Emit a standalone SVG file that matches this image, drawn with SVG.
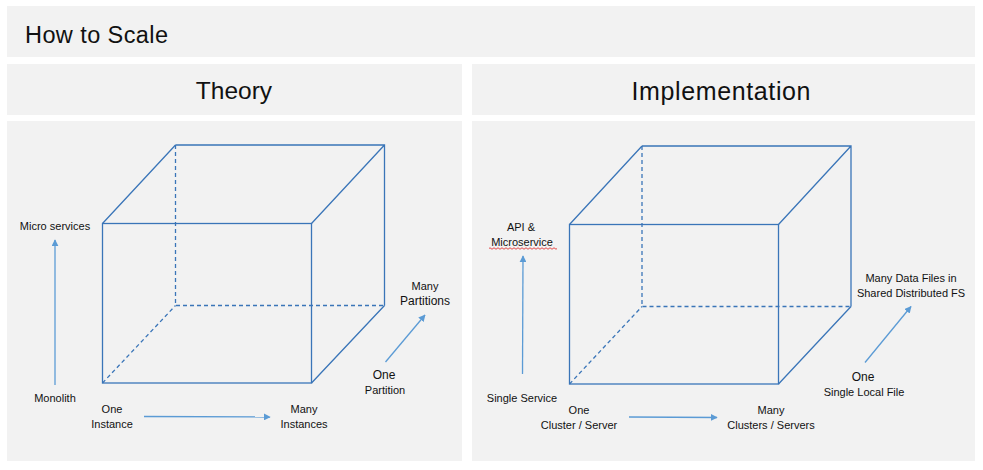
<svg xmlns="http://www.w3.org/2000/svg" width="983" height="470" viewBox="0 0 983 470">
<style>
.panel{fill:#f2f2f2}
.t{font-family:"Liberation Sans",Arial,sans-serif;fill:#111}
.s{font-size:11px;text-anchor:middle}
.m{font-size:12px;text-anchor:middle}
.cube{stroke:#3a75b8;stroke-width:1.3;fill:none}
.dash{stroke-dasharray:4 3}
.arr{stroke:#5b9bd5;stroke-width:1.3;fill:none;marker-end:url(#ah)}
</style>
<defs>
<marker id="ah" viewBox="0 0 10 10" refX="9" refY="5" markerWidth="7" markerHeight="7" markerUnits="userSpaceOnUse" orient="auto">
<path d="M0,0 L10,5 L0,10 z" fill="#5b9bd5"/>
</marker>
</defs>
<rect width="983" height="470" fill="#ffffff"/>
<g id="title">
<rect class="panel" x="7" y="6" width="968" height="51"/>
<text class="t" x="25" y="43" font-size="23.5" textLength="143" lengthAdjust="spacing">How to Scale</text>
</g>
<g id="theory-header">
<rect class="panel" x="7" y="64" width="455" height="51"/>
<text class="t" x="234" y="99" font-size="24.5" text-anchor="middle">Theory</text>
</g>
<g id="implementation-header">
<rect class="panel" x="472" y="64" width="503" height="51"/>
<text class="t" x="631.5" y="100" font-size="25" textLength="179" lengthAdjust="spacing">Implementation</text>
</g>
<g id="theory-body">
<rect class="panel" x="7" y="121" width="455" height="340"/>
<g id="theory-cube">
<rect class="cube" x="102.5" y="223.5" width="209" height="159.5"/>
<path class="cube" d="M175.5,145 H384.5 V305.5 M102.5,223.5 L175.5,145 M311.5,223.5 L384.5,145 M311.5,383 L384.5,305.5"/>
<path class="cube dash" d="M175.5,145 V305.5 H384.5 M102.5,383 L175.5,305.5"/>
</g>
<text class="t s" x="55" y="230">Micro services</text>
<text class="t s" x="55" y="402">Monolith</text>
<text class="t s" x="112" y="413">One</text>
<text class="t s" x="112" y="428">Instance</text>
<text class="t s" x="304" y="413">Many</text>
<text class="t s" x="304" y="428">Instances</text>
<text class="t s" x="425" y="290">Many</text>
<text class="t m" x="425" y="305">Partitions</text>
<text class="t m" x="384" y="379">One</text>
<text class="t s" x="385" y="394">Partition</text>
</g>
<g id="implementation-body">
<rect class="panel" x="472" y="121" width="503" height="340"/>
<g id="implementation-cube">
<rect class="cube" x="569.5" y="224.5" width="209" height="159.5"/>
<path class="cube" d="M642,146 H851 V306.5 M569.5,224.5 L642,146 M778.5,224.5 L851,146 M778.5,384 L851,306.5"/>
<path class="cube dash" d="M642,146 V306.5 H851 M569.5,384 L642,306.5"/>
</g>
<text class="t s" x="521" y="231">API &amp;</text>
<text class="t s" x="522" y="246">Microservice</text>
<path d="M489,248.5 q1,-1.5 2,0 t2,0 t2,0 t2,0 t2,0 t2,0 t2,0 t2,0 t2,0 t2,0 t2,0 t2,0 t2,0 t2,0 t2,0 t2,0 t2,0 t2,0 t2,0 t2,0 t2,0 t2,0 t2,0 t2,0 t2,0 t2,0 t2,0 t2,0 t2,0 t2,0 t2,0 t2,0 t2,0 t2,0" stroke="#e02020" stroke-width="0.8" fill="none"/>
<text class="t s" x="522" y="402">Single Service</text>
<text class="t s" x="579" y="414">One</text>
<text class="t s" x="579" y="429">Cluster / Server</text>
<text class="t s" x="771" y="414">Many</text>
<text class="t s" x="771" y="429">Clusters / Servers</text>
<text class="t s" x="911" y="282">Many Data Files in</text>
<text class="t s" x="911" y="297">Shared Distributed FS</text>
<text class="t m" x="863" y="381">One</text>
<text class="t s" x="864" y="396">Single Local File</text>
</g>
<g id="connectors">
<line class="arr" x1="55" y1="385" x2="55" y2="240"/>
<line class="arr" x1="144" y1="416.5" x2="270" y2="417"/>
<line class="arr" x1="385.5" y1="362" x2="425" y2="315"/>
<line class="arr" x1="522.5" y1="374" x2="523" y2="256"/>
<line class="arr" x1="629" y1="417" x2="717" y2="417.5"/>
<line class="arr" x1="865" y1="362.5" x2="911" y2="306.5"/>
</g>
</svg>
